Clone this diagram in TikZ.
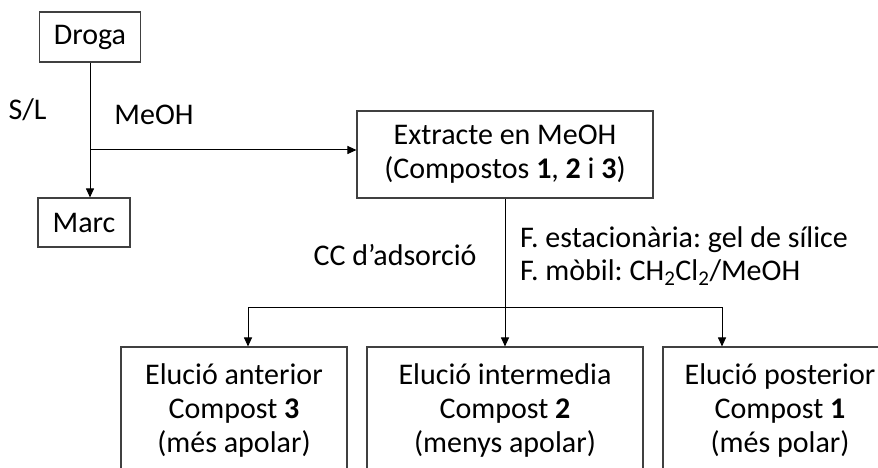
\documentclass[tikz,border=0pt]{standalone}
\usepackage{fontspec}
\setmainfont{Carlito}
\usetikzlibrary{arrows.meta}
\definecolor{boxline}{HTML}{404040}
\frenchspacing
\begin{document}
\begin{tikzpicture}[x=1pt,y=-1pt,
  txt/.style={font=\fontsize{30}{34}\selectfont, align=center, inner sep=0pt},
  box/.style={txt, draw=boxline, line width=1.1pt},
  link/.style={draw=black, line width=1pt},
  arr/.style={link, -{Triangle[length=9pt,width=8pt]}}]
  \clip (0,0) rectangle (878,468);
  \useasboundingbox (0,0) rectangle (878,468);

  % top row
  \node[box, minimum width=101pt, minimum height=50pt] (droga) at (90,37) {Droga};
  \node[box, minimum width=92pt, minimum height=49pt] (marc) at (84,222.5) {Marc};
  \node[box, minimum width=296pt, minimum height=87pt] (extr) at (505,154.5)
    {Extracte en MeOH\\(Compostos \textbf{1}, \textbf{2} i \textbf{3})};

  % fractions
  \node[box, minimum width=226pt, minimum height=126pt] (b1) at (234,410)
    {Elució anterior\\Compost \textbf{3}\\(més apolar)};
  \node[box, minimum width=276pt, minimum height=126pt] (b2) at (505,410)
    {Elució intermedia\\Compost \textbf{2}\\(menys apolar)};
  \node[box, minimum width=234pt, minimum height=126pt] (b3) at (780,410)
    {Elució posterior\\Compost \textbf{1}\\(més polar)};

  % labels
  \node[txt] (sl) at (27.5,110) {S/L};
  \node[txt] (meoh) at (154,115) {MeOH};
  \node[txt] (cc) at (395,255) {CC d’adsorció};
  \node[txt, font=\fontsize{30}{33}\selectfont, align=left, anchor=west] (fases) at (520,256)
    {F. estacionària: gel de sílice\\F. mòbil: CH\textsubscript{2}Cl\textsubscript{2}/MeOH};

  % extraction
  \coordinate (j) at (90,150);
  \draw[arr] (droga.south) -- (droga.south |- marc.north);
  \draw[arr] (j) -- (extr.west |- j);

  % column chromatography
  \coordinate (jl) at (248,307);
  \coordinate (jr) at (722,307);
  \draw[arr] (extr.south) -- (b2.north);
  \draw[link] (jl) -- (jr);
  \draw[arr] (jl) -- (jl |- b1.north);
  \draw[arr] (jr) -- (jr |- b3.north);
\end{tikzpicture}
\end{document}
